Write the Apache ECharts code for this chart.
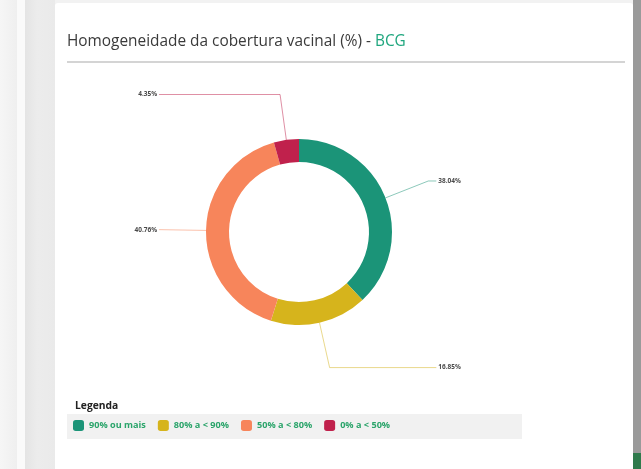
<!DOCTYPE html>
<html><head><meta charset="utf-8">
<script src="https://cdn.jsdelivr.net/npm/echarts@6/dist/echarts.min.js"></script>
<style>
html,body{margin:0;padding:0;width:641px;height:469px;overflow:hidden;background:#f2f2f2;font-family:"Open Sans",sans-serif;}
#l1{position:absolute;left:0;top:0;width:17px;height:469px;background:linear-gradient(90deg,#f6f6f6,#efefef);}
#l2{position:absolute;left:17px;top:0;width:8px;height:469px;background:#fafafa;}
#l3{position:absolute;left:25px;top:0;width:30px;height:469px;background:linear-gradient(90deg,#e4e4e4,#ececec 40%,#eaeaea);}
#card{position:absolute;left:55px;top:3px;width:578px;height:470px;background:#fff;border-radius:3px;}
#r1{position:absolute;left:633px;top:0;width:8px;height:469px;background:#9a9a9a;}
#r2{position:absolute;left:633px;top:453px;width:8px;height:16px;background:#2f7a4c;}
#chart{position:absolute;left:0;top:0;width:641px;height:469px;}
</style></head>
<body>
<div id="l1"></div><div id="l2"></div><div id="l3"></div><div id="card"></div><div id="r1"></div><div id="r2"></div>
<div id="chart"></div>
<script>
const titleMain = 'Homogeneidade da cobertura vacinal (%) - ';
const titleVaccine = 'BCG';
const categories = ['90% ou mais', '80% a < 90%', '50% a < 80%', '0% a < 50%'];
const values = [38.04, 16.85, 40.76, 4.35];
const colors = ['#1b9478', '#d6b41c', '#f7855b', '#c0214c'];
const legendTitle = 'Legenda';

const chart = echarts.init(document.getElementById('chart'), null, {renderer: 'canvas'});
const secondSegment = [8, 8, 1, 1];
const data = categories.map((c, i) => ({
  name: c, value: values[i],
  itemStyle: {color: colors[i]},
  labelLine: {length2: secondSegment[i], lineStyle: {color: colors[i], opacity: 0.5, width: 1}}
}));
chart.setOption({
  animation: false,
  backgroundColor: 'transparent',
  title: {
    left: 62, top: 29,
    text: '{a|' + titleMain + '}{b|' + titleVaccine + '}',
    textStyle: {
      fontWeight: 'normal',
      rich: {
        a: {fontFamily: 'Open Sans', fontSize: 15.4, fontWeight: 'normal', color: '#3a3a3a'},
        b: {fontFamily: 'Open Sans', fontSize: 15.4, fontWeight: 'normal', color: '#1fa67e'}
      }
    }
  },
  graphic: [
    {type: 'line', shape: {x1: 67, y1: 62, x2: 625, y2: 62}, style: {stroke: '#d4d4d4', lineWidth: 2}, silent: true},
    {type: 'rect', shape: {x: 67, y: 414, width: 455, height: 25}, style: {fill: '#f1f1f1'}, silent: true, z: -1},
    {type: 'text', left: 75, top: 401, style: {text: legendTitle, fontFamily: 'Open Sans', fontSize: 10.3, fontWeight: 'bold', fill: '#222'}}
  ],
  legend: {
    left: 68, top: 415, padding: [5, 5],
    itemWidth: 11, itemHeight: 11, itemGap: 12,
    icon: 'roundRect',
    data: categories,
    selectedMode: false,
    textStyle: {fontFamily: 'Open Sans', fontSize: 9.15, fontWeight: 'bold', color: '#2aa46a'}
  },
  series: [{
    type: 'pie',
    left: 139, width: 327, top: 90, height: 284,
    center: [160, '50%'],
    radius: [70, 93],
    startAngle: 90,
    clockwise: true,
    avoidLabelOverlap: true,
    data: data,
    label: {
      show: true,
      formatter: p => p.value.toFixed(2) + '%',
      fontFamily: 'Open Sans', fontSize: 6.5, fontWeight: 'bold', color: '#4a4a4a',
      alignTo: 'labelLine', edgeDistance: 12, distanceToLabelLine: 2,
      overflow: 'none'
    },
    labelLine: {show: true, length: 46, length2: 8}
  }]
});
</script>
</body></html>
